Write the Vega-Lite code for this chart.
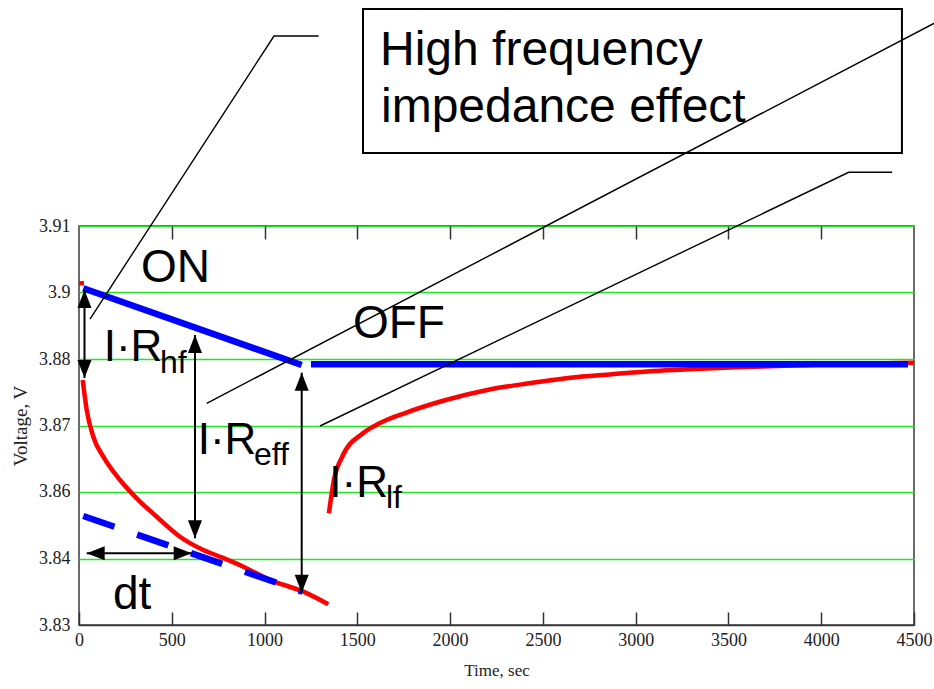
{
  "$schema": "https://vega.github.io/schema/vega-lite/v6.json",
  "width": 835,
  "height": 399,
  "autosize": {"type": "none"},
  "padding": {"left": 79, "top": 226, "right": 20, "bottom": 64},
  "background": "white",
  "resolve": {"axis": {"x": "independent", "y": "independent"}},
  "config": {
    "view": {"stroke": "#3a3a3a", "strokeWidth": 1.5},
    "axis": {
      "labelFont": "Liberation Serif",
      "labelFontSize": 18,
      "labelColor": "#222222",
      "titleFont": "Liberation Serif",
      "titleFontSize": 17,
      "titleFontWeight": "normal",
      "titleColor": "#222222"
    }
  },
  "datasets": {
    "red": [
      {"t": 0, "v": 3.89851, "seg": "rest"},
      {"t": 27, "v": 3.89851, "seg": "rest"},
      {"t": 19.9, "v": 3.87912, "seg": "on"},
      {"t": 41.5, "v": 3.87311, "seg": "on"},
      {"t": 77.1, "v": 3.86775, "seg": "on"},
      {"t": 131, "v": 3.86374, "seg": "on"},
      {"t": 221, "v": 3.85907, "seg": "on"},
      {"t": 311, "v": 3.8554, "seg": "on"},
      {"t": 418.7, "v": 3.85171, "seg": "on"},
      {"t": 544.3, "v": 3.8477, "seg": "on"},
      {"t": 669.9, "v": 3.84504, "seg": "on"},
      {"t": 759.9, "v": 3.84369, "seg": "on"},
      {"t": 885.5, "v": 3.84169, "seg": "on"},
      {"t": 1029.4, "v": 3.83902, "seg": "on"},
      {"t": 1208.8, "v": 3.83668, "seg": "on"},
      {"t": 1343.5, "v": 3.83415, "seg": "on"},
      {"t": 1346.8, "v": 3.8524, "seg": "off"},
      {"t": 1373.7, "v": 3.85907, "seg": "off"},
      {"t": 1418.4, "v": 3.86374, "seg": "off"},
      {"t": 1530, "v": 3.86844, "seg": "off"},
      {"t": 1619.5, "v": 3.87044, "seg": "off"},
      {"t": 1753.7, "v": 3.87245, "seg": "off"},
      {"t": 1976.8, "v": 3.87511, "seg": "off"},
      {"t": 2200.4, "v": 3.87712, "seg": "off"},
      {"t": 2424.1, "v": 3.87846, "seg": "off"},
      {"t": 2647.2, "v": 3.87958, "seg": "off"},
      {"t": 2870.8, "v": 3.88027, "seg": "off"},
      {"t": 3094, "v": 3.88093, "seg": "off"},
      {"t": 3317.6, "v": 3.88133, "seg": "off"},
      {"t": 3540.7, "v": 3.88167, "seg": "off"},
      {"t": 3764.4, "v": 3.88193, "seg": "off"},
      {"t": 4099.6, "v": 3.88233, "seg": "off"},
      {"t": 4500, "v": 3.88259, "seg": "off"}
    ],
    "blue": [
      {"t": 23, "v": 3.89751, "seg": "on"},
      {"t": 1200, "v": 3.88213, "seg": "on"},
      {"t": 1250, "v": 3.88227, "seg": "off"},
      {"t": 4468, "v": 3.88227, "seg": "off"}
    ],
    "bluedash": [
      {"t": 23, "v": 3.85186},
      {"t": 1205, "v": 3.83668}
    ],
    "leaders": [
      {"id": "a", "k": 0, "t": 1291.3, "v": 3.94809},
      {"id": "a", "k": 1, "t": 1050.9, "v": 3.94809},
      {"id": "a", "k": 2, "t": 59.3, "v": 3.89135},
      {"id": "b", "k": 0, "t": 4640.1, "v": 3.95126},
      {"id": "b", "k": 1, "t": 688.2, "v": 3.87445},
      {"id": "c", "k": 0, "t": 4382.5, "v": 3.92077},
      {"id": "c", "k": 1, "t": 4148.1, "v": 3.92077},
      {"id": "c", "k": 2, "t": 1298.8, "v": 3.8699}
    ],
    "vshafts": [
      {"t": 29.6, "v": 3.89717, "v2": 3.87952},
      {"t": 625.1, "v": 3.88815, "v2": 3.84738},
      {"t": 1200.2, "v": 3.88059, "v2": 3.83648}
    ],
    "hshafts": [
      {"t": 41.5, "t2": 607.4, "v": 3.84438}
    ],
    "heads": [
      {"t": 29.6, "v": 3.89717, "dir": "up"},
      {"t": 29.6, "v": 3.87952, "dir": "down"},
      {"t": 625.1, "v": 3.88815, "dir": "up"},
      {"t": 625.1, "v": 3.84738, "dir": "down"},
      {"t": 1200.2, "v": 3.88059, "dir": "up"},
      {"t": 1200.2, "v": 3.83648, "dir": "down"},
      {"t": 41.5, "v": 3.84438, "dir": "left"},
      {"t": 607.4, "v": 3.84438, "dir": "right"}
    ],
    "bigText": [
      {"t": 334.1, "v": 3.89877, "label": "ON"},
      {"t": 1476.6, "v": 3.88764, "label": "OFF"},
      {"t": 183.2, "v": 3.83321, "label": "dt"}
    ],
    "boxText": [
      {"t": 1622.2, "v": 3.94228, "label": "High frequency"},
      {"t": 1627.5, "v": 3.93091, "label": "impedance effect"}
    ],
    "irText": [
      {"t": 133.1, "v": 3.88299, "label": "I·R"},
      {"t": 639.7, "v": 3.86429, "label": "I·R"},
      {"t": 1348.9, "v": 3.85572, "label": "I·R"}
    ],
    "subText": [
      {"t": 436.5, "v": 3.88047, "label": "hf"},
      {"t": 943.1, "v": 3.86208, "label": "eff"},
      {"t": 1654.5, "v": 3.8534, "label": "lf"}
    ],
    "box": [
      {"t": 1530.5, "t2": 4435, "v": 3.95351, "v2": 3.92464}
    ],
    "redTitle": [
      {"t": 409.6, "v": 3.95772, "label": "y"},
      {"t": 3082.6, "v": 3.95772, "label": "p"}
    ]
  },
  "layer": [
    {
      "data": {"name": "red"},
      "mark": {"type": "line", "color": "#ff0000", "strokeWidth": 4.5, "interpolate": "monotone"},
      "encoding": {
        "x": {
          "field": "t", "type": "quantitative",
          "scale": {"domain": [0, 4500], "nice": false, "zero": false},
          "axis": {
            "orient": "bottom",
            "values": [0, 500, 1000, 1500, 2000, 2500, 3000, 3500, 4000, 4500],
            "format": "d",
            "title": "Time, sec",
            "tickSize": -13,
            "tickColor": "#333333",
            "tickWidth": 1.5,
            "labelPadding": 19,
            "labelFlush": false,
            "domain": false,
            "grid": false,
            "titlePadding": 13
          }
        },
        "y": {
          "field": "v", "type": "quantitative",
          "scale": {"domain": [3.83, 3.91], "nice": false, "zero": false},
          "axis": {
            "orient": "left",
            "values": [3.83, 3.8433333, 3.8566667, 3.87, 3.8833333, 3.8966667, 3.91],
            "format": ".2~f",
            "title": "Voltage, V",
            "titleFontSize": 19,
            "ticks": false,
            "domain": false,
            "grid": true,
            "gridColor": {"condition": {"test": "datum.value < 3.835", "value": "#3a3a3a"}, "value": "#22e622"},
            "gridWidth": 1.5,
            "labelPadding": 9,
            "titlePadding": 8
          }
        },
        "detail": {"field": "seg", "type": "nominal"}
      }
    },
    {
      "data": {"name": "blue"},
      "mark": {"type": "line", "color": "#0000ff", "strokeWidth": 6.5, "strokeCap": "butt"},
      "encoding": {
        "x": {
          "field": "t", "type": "quantitative",
          "scale": {"domain": [0, 4500], "nice": false, "zero": false},
          "axis": {
            "orient": "top",
            "values": [500, 1000, 1500, 2000, 2500, 3000, 3500, 4000],
            "labels": false,
            "title": null,
            "tickSize": -13,
            "tickColor": "#333333",
            "tickWidth": 1.5,
            "domain": false,
            "grid": false
          }
        },
        "y": {"field": "v", "type": "quantitative", "scale": {"domain": [3.83, 3.91], "nice": false, "zero": false}, "axis": null},
        "detail": {"field": "seg", "type": "nominal"}
      }
    },
    {
      "data": {"name": "bluedash"},
      "mark": {"type": "line", "color": "#0000ff", "strokeWidth": 6.5, "strokeCap": "butt", "strokeDash": [33, 24]},
      "encoding": {
        "x": {"field": "t", "type": "quantitative", "scale": {"domain": [0, 4500], "nice": false, "zero": false}, "axis": null},
        "y": {"field": "v", "type": "quantitative", "scale": {"domain": [3.83, 3.91], "nice": false, "zero": false}, "axis": null}
      }
    },
    {
      "data": {"name": "box"},
      "mark": {"type": "rect", "filled": false, "stroke": "#000000", "strokeWidth": 2},
      "encoding": {
        "x": {"field": "t", "type": "quantitative", "scale": {"domain": [0, 4500], "nice": false, "zero": false}, "axis": null},
        "x2": {"field": "t2"},
        "y": {"field": "v", "type": "quantitative", "scale": {"domain": [3.83, 3.91], "nice": false, "zero": false}, "axis": null},
        "y2": {"field": "v2"}
      }
    },
    {
      "data": {"name": "vshafts"},
      "mark": {"type": "rule", "color": "#000000", "strokeWidth": 2},
      "encoding": {
        "x": {"field": "t", "type": "quantitative", "scale": {"domain": [0, 4500], "nice": false, "zero": false}, "axis": null},
        "y": {"field": "v", "type": "quantitative", "scale": {"domain": [3.83, 3.91], "nice": false, "zero": false}, "axis": null},
        "y2": {"field": "v2"}
      }
    },
    {
      "data": {"name": "hshafts"},
      "mark": {"type": "rule", "color": "#000000", "strokeWidth": 2},
      "encoding": {
        "x": {"field": "t", "type": "quantitative", "scale": {"domain": [0, 4500], "nice": false, "zero": false}, "axis": null},
        "x2": {"field": "t2"},
        "y": {"field": "v", "type": "quantitative", "scale": {"domain": [3.83, 3.91], "nice": false, "zero": false}, "axis": null}
      }
    },
    {
      "data": {"name": "heads"},
      "mark": {"type": "point", "filled": true, "color": "#000000", "opacity": 1, "size": 324, "strokeWidth": 0},
      "encoding": {
        "x": {"field": "t", "type": "quantitative", "scale": {"domain": [0, 4500], "nice": false, "zero": false}, "axis": null},
        "y": {"field": "v", "type": "quantitative", "scale": {"domain": [3.83, 3.91], "nice": false, "zero": false}, "axis": null},
        "shape": {
          "field": "dir", "type": "nominal",
          "scale": {
            "domain": ["up", "down", "left", "right"],
            "range": ["M0,0L-0.78,2L0.78,2Z", "M0,0L-0.78,-2L0.78,-2Z", "M0,0L2,-0.78L2,0.78Z", "M0,0L-2,-0.78L-2,0.78Z"]
          },
          "legend": null
        }
      }
    },
    {
      "data": {"name": "bigText"},
      "mark": {"type": "text", "font": "Liberation Sans", "fontSize": 46, "color": "#000000", "align": "left", "baseline": "alphabetic"},
      "encoding": {
        "x": {"field": "t", "type": "quantitative", "scale": {"domain": [0, 4500], "nice": false, "zero": false}, "axis": null},
        "y": {"field": "v", "type": "quantitative", "scale": {"domain": [3.83, 3.91], "nice": false, "zero": false}, "axis": null},
        "text": {"field": "label", "type": "nominal"}
      }
    },
    {
      "data": {"name": "boxText"},
      "mark": {"type": "text", "font": "Liberation Sans", "fontSize": 48, "color": "#000000", "align": "left", "baseline": "alphabetic"},
      "encoding": {
        "x": {"field": "t", "type": "quantitative", "scale": {"domain": [0, 4500], "nice": false, "zero": false}, "axis": null},
        "y": {"field": "v", "type": "quantitative", "scale": {"domain": [3.83, 3.91], "nice": false, "zero": false}, "axis": null},
        "text": {"field": "label", "type": "nominal"}
      }
    },
    {
      "data": {"name": "irText"},
      "mark": {"type": "text", "font": "Liberation Sans", "fontSize": 44, "color": "#000000", "align": "left", "baseline": "alphabetic"},
      "encoding": {
        "x": {"field": "t", "type": "quantitative", "scale": {"domain": [0, 4500], "nice": false, "zero": false}, "axis": null},
        "y": {"field": "v", "type": "quantitative", "scale": {"domain": [3.83, 3.91], "nice": false, "zero": false}, "axis": null},
        "text": {"field": "label", "type": "nominal"}
      }
    },
    {
      "data": {"name": "subText"},
      "mark": {"type": "text", "font": "Liberation Sans", "fontSize": 32, "color": "#000000", "align": "left", "baseline": "alphabetic"},
      "encoding": {
        "x": {"field": "t", "type": "quantitative", "scale": {"domain": [0, 4500], "nice": false, "zero": false}, "axis": null},
        "y": {"field": "v", "type": "quantitative", "scale": {"domain": [3.83, 3.91], "nice": false, "zero": false}, "axis": null},
        "text": {"field": "label", "type": "nominal"}
      }
    },
    {
      "data": {"name": "leaders"},
      "mark": {"type": "line", "color": "#000000", "strokeWidth": 1.4},
      "encoding": {
        "x": {"field": "t", "type": "quantitative", "scale": {"domain": [0, 4500], "nice": false, "zero": false}, "axis": null},
        "y": {"field": "v", "type": "quantitative", "scale": {"domain": [3.83, 3.91], "nice": false, "zero": false}, "axis": null},
        "detail": {"field": "id", "type": "nominal"},
        "order": {"field": "k", "type": "quantitative"}
      }
    },
    {
      "data": {"name": "redTitle"},
      "mark": {"type": "text", "font": "Liberation Sans", "fontSize": 46, "fontWeight": "bold", "color": "#ee0000", "align": "left", "baseline": "alphabetic"},
      "encoding": {
        "x": {"field": "t", "type": "quantitative", "scale": {"domain": [0, 4500], "nice": false, "zero": false}, "axis": null},
        "y": {"field": "v", "type": "quantitative", "scale": {"domain": [3.83, 3.91], "nice": false, "zero": false}, "axis": null},
        "text": {"field": "label", "type": "nominal"}
      }
    }
  ]
}
